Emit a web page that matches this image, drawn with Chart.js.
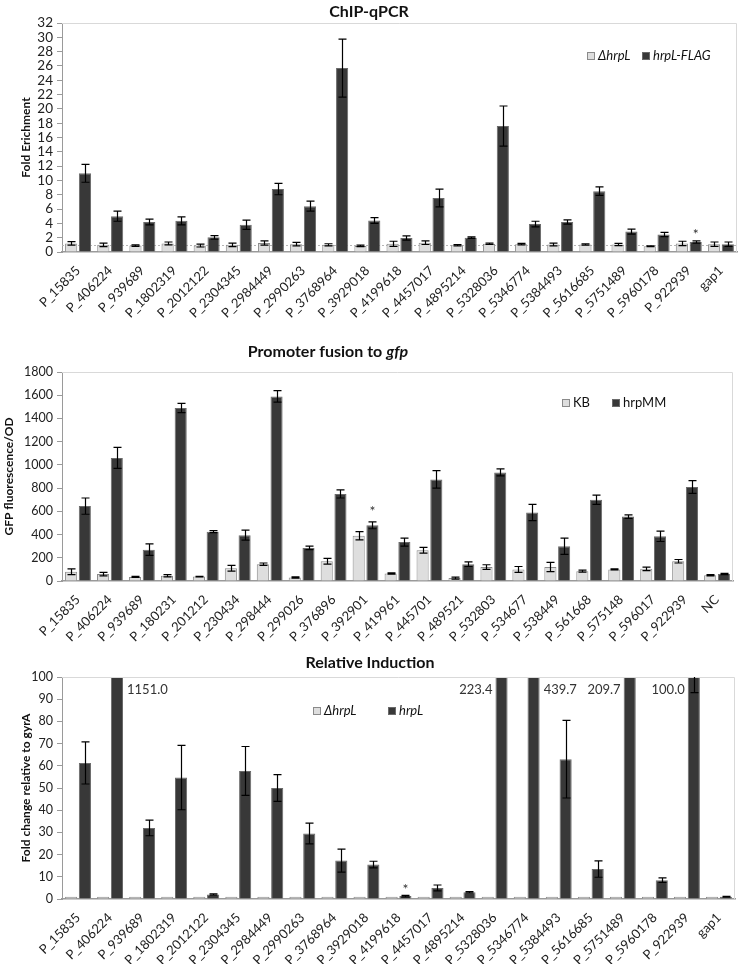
<!DOCTYPE html>
<html>
<head>
<meta charset="utf-8">
<script src="https://cdn.jsdelivr.net/npm/chart.js@4.4.1/dist/chart.umd.min.js"></script>
<style>
  body { margin: 0; background: #fff; }
  #wrap { position: relative; width: 739px; height: 964px; }
  canvas { position: absolute; left: 0; }
</style>
</head>
<body>
<div id="wrap">
  <canvas id="chip" width="739" height="320" style="top:0"></canvas>
  <canvas id="gfp" width="739" height="330" style="top:320px"></canvas>
  <canvas id="ind" width="739" height="314" style="top:650px"></canvas>
</div>
<script>
// ChIP-qPCR
var chipLabels = ['P_15835', 'P_406224', 'P_939689', 'P_1802319', 'P_2012122', 'P_2304345', 'P_2984449',
  'P_2990263', 'P_3768964', 'P_3929018', 'P_4199618', 'P_4457017', 'P_4895214', 'P_5328036',
  'P_5346774', 'P_5384493', 'P_5616685', 'P_5751489', 'P_5960178', 'P_922939', 'gap1'];
var chipDelta    = [1.2, 1.0, 0.9, 1.2, 0.9, 1.0, 1.25, 1.1, 1.0, 0.85, 1.15, 1.3, 0.95, 1.15, 1.1, 1.05, 1.05, 1.05, 0.8, 1.2, 1.1];
var chipDeltaErr = [0.25, 0.25, 0.1, 0.2, 0.2, 0.25, 0.3, 0.25, 0.15, 0.1, 0.35, 0.25, 0.1, 0.1, 0.1, 0.2, 0.1, 0.15, 0.05, 0.3, 0.3];
var chipFlag     = [11.0, 5.0, 4.2, 4.35, 2.05, 3.8, 8.8, 6.4, 25.7, 4.4, 1.95, 7.55, 2.0, 17.6, 3.9, 4.2, 8.5, 2.85, 2.45, 1.4, 1.1];
var chipFlagErr  = [1.25, 0.7, 0.4, 0.55, 0.25, 0.65, 0.8, 0.7, 4.05, 0.4, 0.3, 1.25, 0.1, 2.8, 0.4, 0.3, 0.6, 0.35, 0.3, 0.15, 0.3];

// Promoter fusion to gfp
var gfpLabels = ['P_15835', 'P_406224', 'P_939689', 'P_180231', 'P_201212', 'P_230434', 'P_298444',
  'P_299026', 'P_376896', 'P_392901', 'P_419961', 'P_445701', 'P_489521', 'P_532803',
  'P_534677', 'P_538449', 'P_561668', 'P_575148', 'P_596017', 'P_922939', 'NC'];
var gfpKB      = [80, 60, 35, 45, 38, 110, 145, 30, 170, 390, 65, 265, 25, 120, 100, 120, 85, 100, 105, 170, 50];
var gfpKBErr   = [25, 15, 5, 10, 3, 25, 10, 5, 25, 35, 5, 25, 8, 20, 25, 40, 8, 5, 15, 15, 5];
var gfpMM      = [645, 1060, 270, 1490, 425, 395, 1590, 285, 750, 480, 335, 875, 145, 935, 590, 300, 700, 555, 385, 810, 60];
var gfpMMErr   = [70, 90, 50, 40, 8, 43, 50, 15, 35, 30, 35, 75, 20, 30, 70, 70, 40, 15, 45, 55, 5];

// Relative Induction
var indLabels = chipLabels;
var indDelta    = [1.0, 1.0, 1.0, 1.0, 1.0, 1.0, 1.0, 1.0, 1.0, 1.0, 1.0, 1.0, 1.0, 1.0, 1.0, 1.0, 1.0, 1.0, 1.0, 1.0, 1.0];
var indDeltaErr = [0, 0, 0, 0, 0, 0, 0, 0, 0, 0, 0, 0, 0, 0, 0, 0, 0, 0, 0, 0, 0];
var indHrpL     = [61.3, 1151.0, 32.0, 54.7, 2.0, 57.7, 50.0, 29.5, 17.3, 15.5, 1.3, 5.0, 3.0, 223.4, 439.7, 63.0, 13.5, 209.7, 8.5, 100.0, 1.0];
var indHrpLErr  = [9.5, 0, 3.5, 14.5, 0.3, 11.0, 6.0, 4.7, 5.2, 1.5, 0.3, 1.3, 0.3, 0, 0, 17.5, 3.7, 0, 1.0, 7.0, 0.2];

var FONT = 'Lato, "Open Sans", sans-serif';
Chart.defaults.font.family = FONT;
Chart.defaults.color = '#222';

var LIGHT = '#dedede', LIGHT_EDGE = '#8a8a8a';
var DARK = '#383838', DARK_EDGE = '#6a6a6a';

var extras = {
  id: 'extras',
  beforeDatasetsDraw: function (chart, args, o) {
    var ctx = chart.ctx, a = chart.chartArea, y = chart.scales.y;
    if (o.refLine != null) {
      var py = Math.round(y.getPixelForValue(o.refLine)) + 0.5;
      ctx.save();
      ctx.strokeStyle = '#b5b5b5';
      ctx.setLineDash([2, 2]);
      ctx.beginPath(); ctx.moveTo(a.left, py); ctx.lineTo(a.right, py); ctx.stroke();
      ctx.restore();
    }
  },
  afterDatasetsDraw: function (chart, args, o) {
    var ctx = chart.ctx, a = chart.chartArea, y = chart.scales.y;
    ctx.save();
    // light frame on top / right of the plot
    ctx.strokeStyle = '#d9d9d9'; ctx.lineWidth = 1;
    ctx.beginPath();
    ctx.moveTo(a.left, a.top + 0.5); ctx.lineTo(a.right - 0.5, a.top + 0.5); ctx.lineTo(a.right - 0.5, a.bottom);
    ctx.stroke();

    // error bars
    ctx.strokeStyle = '#000'; ctx.lineWidth = 1.2;
    chart.data.datasets.forEach(function (ds, di) {
      chart.getDatasetMeta(di).data.forEach(function (bar, i) {
        var e = ds.errors[i];
        if (!e) return;
        var v = ds.data[i];
        var top = y.getPixelForValue(v + e), bot = y.getPixelForValue(v - e);
        var capTop = top >= a.top;
        top = Math.max(top, a.top);
        var x = Math.round(bar.x) + 0.5;
        ctx.beginPath();
        ctx.moveTo(x, top); ctx.lineTo(x, bot);
        if (capTop) { ctx.moveTo(x - 4, top); ctx.lineTo(x + 4, top); }
        ctx.moveTo(x - 4, bot); ctx.lineTo(x + 4, bot);
        ctx.stroke();
      });
    });

    // asterisks
    ctx.fillStyle = '#333';
    ctx.font = '14px ' + FONT;
    ctx.textAlign = 'center';
    ctx.textBaseline = 'alphabetic';
    (o.stars || []).forEach(function (s) {
      var ds = chart.data.datasets[s.dataset];
      var bar = chart.getDatasetMeta(s.dataset).data[s.index];
      var py = y.getPixelForValue(ds.data[s.index] + (ds.errors[s.index] || 0));
      ctx.fillText('*', bar.x, py + s.dy);
    });

    // value labels on clipped bars
    ctx.font = '13px ' + FONT;
    ctx.textBaseline = 'middle';
    (o.valueLabels || []).forEach(function (l) {
      var ds = chart.data.datasets[l.dataset];
      var bar = chart.getDatasetMeta(l.dataset).data[l.index];
      var half = bar.width / 2;
      var txt = ds.data[l.index].toFixed(1);
      if (l.side === 'right') { ctx.textAlign = 'left'; ctx.fillText(txt, bar.x + half + 4, a.top + 13); }
      else { ctx.textAlign = 'right'; ctx.fillText(txt, bar.x - half - 3, a.top + 13); }
    });
    ctx.restore();
  },
  afterDraw: function (chart, args, o) {
    var ctx = chart.ctx;
    ctx.save();
    // title (pieces allow italic words)
    ctx.textBaseline = 'middle';
    ctx.fillStyle = '#111';
    var parts = o.title.parts, total = 0;
    parts.forEach(function (p) {
      ctx.font = (p.italic ? 'italic ' : '') + 'bold 16px ' + FONT;
      p.w = ctx.measureText(p.text).width; total += p.w;
    });
    var tx = o.title.x - total / 2;
    ctx.textAlign = 'left';
    parts.forEach(function (p) {
      ctx.font = (p.italic ? 'italic ' : '') + 'bold 16px ' + FONT;
      ctx.fillText(p.text, tx, o.title.y); tx += p.w;
    });
    // legend
    o.legend.forEach(function (l) {
      ctx.fillStyle = l.fill; ctx.strokeStyle = l.edge; ctx.lineWidth = 1;
      ctx.fillRect(l.x, l.y - 4, 8, 8);
      ctx.strokeRect(l.x + 0.5, l.y - 3.5, 7, 7);
      ctx.fillStyle = '#111';
      ctx.font = (l.italic ? 'italic ' : '') + '13px ' + FONT;
      ctx.fillText(l.text, l.x + 11, l.y);
    });
    ctx.restore();
  }
};

function makeChart(id, labels, sets, axis, lay, deco) {
  return new Chart(document.getElementById(id), {
    type: 'bar',
    data: {
      labels: labels,
      datasets: sets.map(function (s, k) {
        return {
          label: s.label,
          data: s.data,
          errors: s.errors,
          backgroundColor: k === 0 ? LIGHT : DARK,
          borderColor: k === 0 ? LIGHT_EDGE : DARK_EDGE,
          borderWidth: 1,
          categoryPercentage: 0.86,
          barPercentage: 0.88
        };
      })
    },
    options: {
      responsive: false,
      animation: false,
      layout: { padding: { top: lay.top, right: lay.right, left: 0, bottom: 0 } },
      plugins: {
        legend: { display: false },
        tooltip: { enabled: false },
        extras: deco
      },
      scales: {
        x: {
          grid: { display: false },
          border: { display: true, color: '#9a9a9a', width: 1.5 },
          ticks: { autoSkip: false, minRotation: 45, maxRotation: 45, padding: 3,
                   font: { size: 13 }, color: '#222' },
          afterFit: function (s) { s.height = lay.xHeight; }
        },
        y: {
          min: 0, max: axis.max,
          grid: { drawOnChartArea: false, tickLength: 5, color: '#9a9a9a' },
          border: { display: true, color: '#9a9a9a', width: 1 },
          ticks: { stepSize: axis.step, autoSkip: false, padding: 4, font: { size: axis.tickSize }, color: '#222',
                   callback: function (v) { return String(v); } },
          title: { display: true, text: axis.title, font: { size: 12, weight: 'bold' },
                   color: '#111', padding: { top: lay.titlePad, bottom: 0 } },
          afterFit: function (s) { s.width = lay.yWidth; }
        }
      }
    },
    plugins: [extras]
  });
}

makeChart('chip', chipLabels,
  [{ label: 'ΔhrpL', data: chipDelta, errors: chipDeltaErr },
   { label: 'hrpL-FLAG', data: chipFlag, errors: chipFlagErr }],
  { max: 32, step: 2, title: 'Fold Erichment', tickSize: 13.5 },
  { top: 23, right: 2, xHeight: 68, yWidth: 62, titlePad: 19 },
  { refLine: 1,
    title: { x: 369, y: 12, parts: [{ text: 'ChIP-qPCR' }] },
    legend: [{ x: 587, y: 56, fill: LIGHT, edge: LIGHT_EDGE, text: 'ΔhrpL', italic: true },
             { x: 642, y: 56, fill: DARK, edge: DARK_EDGE, text: 'hrpL-FLAG', italic: true }],
    stars: [{ dataset: 1, index: 19, dy: -2 }] });

makeChart('gfp', gfpLabels,
  [{ label: 'KB', data: gfpKB, errors: gfpKBErr },
   { label: 'hrpMM', data: gfpMM, errors: gfpMMErr }],
  { max: 1800, step: 200, title: 'GFP fluorescence/OD', tickSize: 12.5 },
  { top: 52, right: 6, xHeight: 69, yWidth: 62, titlePad: 2 },
  { title: { x: 328, y: 32, parts: [{ text: 'Promoter fusion to ' }, { text: 'gfp', italic: true }] },
    legend: [{ x: 562, y: 83, fill: LIGHT, edge: LIGHT_EDGE, text: 'KB', italic: false },
             { x: 612, y: 83, fill: DARK, edge: DARK_EDGE, text: 'hrpMM', italic: false }],
    stars: [{ dataset: 1, index: 9, dy: -6 }] });

makeChart('ind', indLabels,
  [{ label: 'ΔhrpL', data: indDelta, errors: indDeltaErr },
   { label: 'hrpL', data: indHrpL, errors: indHrpLErr }],
  { max: 100, step: 10, title: 'Fold change relative to gyrA', tickSize: 12.5 },
  { top: 27, right: 4, xHeight: 65, yWidth: 62, titlePad: 19 },
  { title: { x: 370, y: 13, parts: [{ text: 'Relative Induction' }] },
    legend: [{ x: 313, y: 61, fill: LIGHT, edge: LIGHT_EDGE, text: 'ΔhrpL', italic: true },
             { x: 388, y: 61, fill: DARK, edge: DARK_EDGE, text: 'hrpL', italic: true }],
    stars: [{ dataset: 1, index: 10, dy: -1 }],
    valueLabels: [{ dataset: 1, index: 1, side: 'right' }, { dataset: 1, index: 13, side: 'left' },
                  { dataset: 1, index: 14, side: 'right' }, { dataset: 1, index: 17, side: 'left' },
                  { dataset: 1, index: 19, side: 'left' }] });
</script>
</body>
</html>
